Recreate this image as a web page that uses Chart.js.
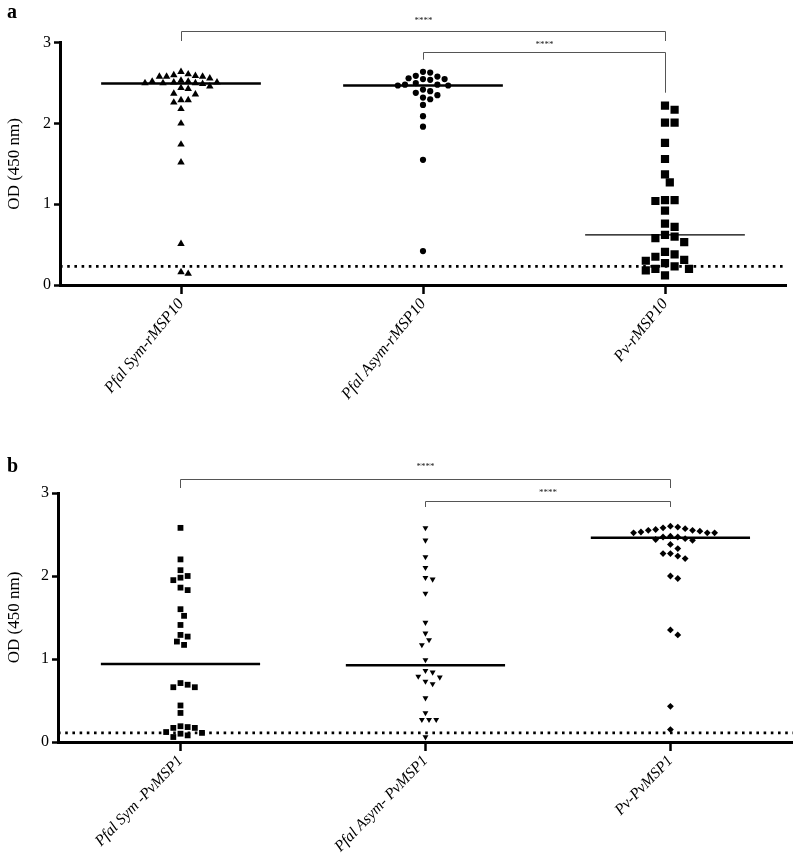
<!DOCTYPE html>
<html><head><meta charset="utf-8">
<script src="https://cdn.jsdelivr.net/npm/chart.js@4/dist/chart.umd.min.js"></script>
<style>
html,body{margin:0;padding:0;background:#fff;width:797px;height:856px;overflow:hidden}
.p{position:absolute;left:0}
#wa{top:0}
#wb{top:452px}
</style></head><body>
<div class="p" id="wa"><canvas id="ca" width="797" height="452"></canvas></div>
<div class="p" id="wb"><canvas id="cb" width="797" height="404"></canvas></div>
<script>
// ---- data ----
const catsA = ['Pfal Sym-rMSP10', 'Pfal Asym-rMSP10', 'Pv-rMSP10'];
const catsB = ['Pfal Sym -PvMSP1', 'Pfal Asym- PvMSP1', 'Pv-PvMSP1'];
const yTicks = [0, 1, 2, 3];
const yTitle = 'OD (450 nm)';

const symA  = [2.64, 2.61, 2.60, 2.59, 2.58, 2.58, 2.58, 2.56, 2.53, 2.52, 2.52, 2.51, 2.51, 2.50, 2.50, 2.50, 2.49, 2.46, 2.44, 2.43, 2.37, 2.36, 2.29, 2.29, 2.26, 2.18, 2.00, 1.74, 1.52, 0.51, 0.16, 0.14];
const asymA = [2.64, 2.63, 2.59, 2.58, 2.56, 2.55, 2.55, 2.54, 2.50, 2.48, 2.48, 2.47, 2.47, 2.42, 2.40, 2.38, 2.35, 2.32, 2.30, 2.23, 2.09, 1.96, 1.55, 0.42];
const pvA   = [2.22, 2.17, 2.01, 2.01, 1.76, 1.56, 1.37, 1.27, 1.05, 1.05, 1.04, 0.92, 0.76, 0.72, 0.62, 0.60, 0.58, 0.53, 0.41, 0.38, 0.35, 0.31, 0.30, 0.27, 0.23, 0.20, 0.20, 0.18, 0.12];

const symB  = [2.58, 2.20, 2.07, 2.00, 1.98, 1.95, 1.86, 1.83, 1.60, 1.52, 1.41, 1.29, 1.27, 1.21, 1.17, 0.71, 0.69, 0.66, 0.66, 0.44, 0.35, 0.19, 0.18, 0.17, 0.17, 0.12, 0.11, 0.10, 0.08, 0.06];
const asymB = [2.58, 2.43, 2.23, 2.10, 1.98, 1.96, 1.79, 1.44, 1.31, 1.23, 1.17, 0.99, 0.86, 0.84, 0.79, 0.78, 0.73, 0.70, 0.53, 0.35, 0.27, 0.27, 0.27, 0.06];
const pvB   = [2.60, 2.59, 2.58, 2.57, 2.56, 2.55, 2.55, 2.54, 2.53, 2.52, 2.52, 2.52, 2.48, 2.47, 2.47, 2.45, 2.44, 2.43, 2.38, 2.33, 2.27, 2.27, 2.24, 2.21, 2.00, 1.97, 1.35, 1.29, 0.43, 0.15];

const cutoffA = 0.23;
const cutoffB = 0.11;
const sigA = [[0, 2, '****'], [1, 2, '****']];
const sigB = [[0, 2, '****'], [1, 2, '****']];

// ---- helpers ----
function median(a) {
  const s = [...a].sort((x, y) => x - y);
  const n = s.length;
  return n % 2 ? s[(n - 1) / 2] : (s[n / 2 - 1] + s[n / 2]) / 2;
}
// deterministic beeswarm: spread points sideways so markers do not overlap
function swarm(vals, pxY, pxX, diam, step) {
  const order = vals.map((v, i) => i).sort((a, b) => vals[b] - vals[a]);
  const placed = [];
  const off = new Array(vals.length).fill(0);
  for (const i of order) {
    const y = vals[i] * pxY;
    for (let k = 0; k < 80; k++) {
      const s = k === 0 ? 0 : (k % 2 ? Math.ceil(k / 2) : -Math.ceil(k / 2));
      const x = s * step;
      if (placed.every(p => (p.x - x) ** 2 + (p.y - y) ** 2 >= diam * diam)) {
        placed.push({x, y});
        off[i] = x / pxX;
        break;
      }
    }
  }
  return off;
}

const SERIF = "'Liberation Serif', 'Times New Roman', serif";

function build(id, cats, groups, styles, cutoff, sig, g) {
  const pxY = (g.bottom - g.top) / 3;
  const pxX = (g.right - g.left) / 3;
  const datasets = [];
  groups.forEach((vals, gi) => {
    const st = styles[gi];
    const off = swarm(vals, pxY, pxX, st.diam, st.step);
    datasets.push({
      type: 'scatter', data: vals.map((v, i) => ({x: gi + off[i], y: v})),
      pointStyle: st.shape, rotation: st.rot || 0, pointRadius: st.r,
      backgroundColor: '#000', borderColor: '#000', borderWidth: 0, order: 1
    });
    const m = median(vals);
    datasets.push({
      type: 'line', data: [{x: gi - g.half, y: m}, {x: gi + g.half, y: m}],
      borderColor: '#000', borderWidth: st.mw, pointRadius: 0, order: 2
    });
  });
  datasets.push({
    type: 'line', data: [{x: -0.5, y: cutoff}, {x: 2.5, y: cutoff}],
    borderColor: '#000', borderWidth: 2.6, borderDash: [2.6, 4.6], pointRadius: 0, order: 3
  });

  const deco = {
    id: 'deco',
    afterDraw(chart) {
      const ctx = chart.ctx;
      const xs = chart.scales.x;
      const top = chart.chartArea.top;
      ctx.save();
      ctx.fillStyle = '#000';
      ctx.font = 'bold 20px ' + SERIF;
      ctx.textBaseline = 'middle';
      ctx.textAlign = 'left';
      ctx.fillText(g.letter, 7, g.letterY);
      ctx.strokeStyle = '#555';
      ctx.lineWidth = 1;
      sig.forEach((s, k) => {
        const b = g.brackets[k];
        const x1 = Math.round(xs.getPixelForValue(s[0])) + 0.5;
        const x2 = Math.round(xs.getPixelForValue(s[1])) + 0.5;
        const y = Math.round(top + b.y) + 0.5;
        ctx.beginPath();
        ctx.moveTo(x1, top + b.l);
        ctx.lineTo(x1, y);
        ctx.lineTo(x2, y);
        ctx.lineTo(x2, top + b.r);
        ctx.stroke();
        ctx.font = '9px ' + SERIF;
        ctx.textAlign = 'center';
        ctx.fillStyle = '#222';
        ctx.fillText(s[2], (x1 + x2) / 2, top + b.s);
      });
      ctx.restore();
    }
  };

  return new Chart(document.getElementById(id), {
    data: {datasets},
    plugins: [deco],
    options: {
      responsive: false, animation: false, devicePixelRatio: 1,
      layout: {padding: {top: g.top, right: g.W - g.right, left: 0, bottom: 0}},
      plugins: {legend: {display: false}, tooltip: {enabled: false}},
      scales: {
        x: {
          type: 'linear', min: -0.5, max: 2.5,
          afterBuildTicks: s => { s.ticks = cats.map((c, i) => ({value: i})); },
          afterFit: s => { s.height = g.H - g.bottom; },
          ticks: {
            callback: (v, i) => cats[i], autoSkip: false,
            minRotation: g.rot, maxRotation: g.rot, padding: 1, color: '#000',
            font: {family: SERIF, size: g.xfs, style: 'italic'}
          },
          grid: {drawOnChartArea: false, drawTicks: true, tickLength: 9, tickWidth: 2.5, tickColor: '#000'},
          border: {display: true, width: 3, color: '#000'}
        },
        y: {
          type: 'linear', min: 0, max: 3,
          afterBuildTicks: s => { s.ticks = yTicks.map(v => ({value: v})); },
          afterFit: s => { s.width = g.left; },
          ticks: {color: '#000', padding: 3, font: {family: SERIF, size: 16}},
          grid: {drawOnChartArea: false, drawTicks: true, tickLength: 6, tickWidth: 2.5, tickColor: '#000'},
          border: {display: true, width: 3, color: '#000'},
          title: {display: true, text: yTitle, color: '#000', padding: {top: 4, bottom: 0}, font: {family: SERIF, size: 17}}
        }
      }
    }
  });
}

build('ca', catsA, [symA, asymA, pvA], [
  {shape: 'triangle', r: 4.3, diam: 7, step: 3.6, mw: 2.6},
  {shape: 'circle', r: 3.1, diam: 7, step: 3.6, mw: 2.6},
  {shape: 'rect', r: 5.8, diam: 9, step: 4.8, mw: 1.2}
], cutoffA, sigA, {
  W: 797, H: 452, top: 42.7, bottom: 285, left: 60, right: 786, half: 0.33, rot: 51, xfs: 16,
  letter: 'a', letterY: 13,
  brackets: [{y: -11.7, l: -1.7, r: -1.7, s: -22.5}, {y: 9.5, l: 17, r: 50, s: 1.5}]
});

build('cb', catsB, [symB, asymB, pvB], [
  {shape: 'rect', r: 4.1, diam: 7, step: 3.6, mw: 2.6},
  {shape: 'triangle', rot: 180, r: 3.4, diam: 7, step: 3.6, mw: 2.6},
  {shape: 'rectRot', r: 3.4, diam: 7, step: 3.7, mw: 2.6}
], cutoffB, sigB, {
  W: 797, H: 404, top: 41, bottom: 290, left: 58, right: 796, half: 0.325, rot: 46, xfs: 15.5,
  letter: 'b', letterY: 15,
  brackets: [{y: -14, l: -5, r: -5, s: -26}, {y: 8, l: 14, r: 14, s: 0}]
});
</script>
</body></html>
